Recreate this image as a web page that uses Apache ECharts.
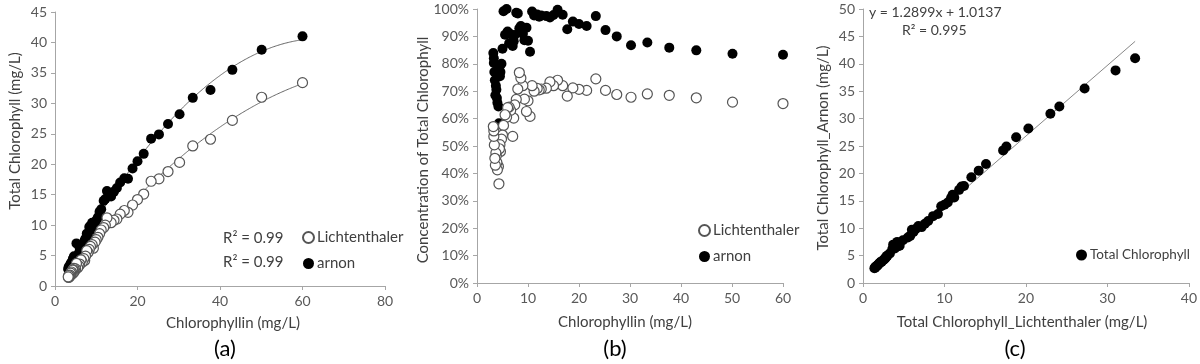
<!DOCTYPE html>
<html><head><meta charset="utf-8">
<script src="https://cdn.jsdelivr.net/npm/echarts@6/dist/echarts.min.js"></script>
<style>html,body{margin:0;padding:0;background:#fff}#c{width:1200px;height:364px}</style>
</head><body><div id="c"></div>
<script>
// Chlorophyllin (mg/L) per sample
const chlorophyllin = [60.0,50.1,43.0,37.7,33.4,30.2,27.4,25.2,23.3,21.5,20.0,18.8,17.7,16.8,15.8,15.0,14.3,13.6,12.6,12.2,11.8,11.2,10.8,10.4,10.0,9.7,9.3,9.0,8.6,8.3,8.0,7.7,7.4,7.2,7.0,6.6,6.3,6.0,5.8,5.5,5.2,5.0,4.8,4.6,4.5,4.4,4.3,4.2,4.0,3.9,3.8,3.7,3.6,3.5,3.4,3.3,3.3,3.2];
// Total chlorophyll (mg/L), Lichtenthaler method
const lichtTotal = [33.4,31.0,27.2,24.1,23.0,20.3,18.8,17.6,17.2,15.1,14.2,13.3,12.1,12.4,11.8,11.0,10.8,10.4,11.2,10.0,9.6,9.2,8.6,8.0,7.6,7.2,6.2,6.8,6.5,6.0,5.5,5.8,4.9,4.2,4.5,3.9,4.3,3.6,3.3,3.0,3.7,2.8,2.5,2.9,2.2,2.7,2.6,2.0,2.3,1.9,2.1,1.7,1.8,1.5,1.6,1.4,1.7,1.5];
// Total chlorophyll (mg/L), Arnon method
const arnonTotal = [41.0,38.8,35.5,32.2,30.9,28.2,26.6,24.9,24.2,21.7,20.5,19.3,17.6,17.7,17.0,16.1,15.5,14.7,15.6,14.3,14.0,12.6,12.2,11.3,10.8,10.2,9.3,10.4,9.9,9.7,8.3,8.6,7.8,7.5,6.8,6.3,6.7,6.2,5.4,5.0,7.0,4.6,4.2,4.9,3.9,4.5,4.3,3.6,3.9,3.4,3.7,3.1,3.3,2.9,3.0,2.7,3.1,2.8];
// Concentration of total chlorophyll (%)
const lichtPct = [65.5,66.0,67.6,68.5,69.0,67.8,68.8,70.3,74.5,70.3,70.7,71.2,68.2,72.0,74.0,72.0,73.4,71.1,70.8,70.5,71.0,70.0,72.0,60.8,66.5,62.6,67.1,72.0,74.8,76.8,70.8,67.0,65.0,60.2,53.5,63.0,64.2,64.0,60.5,61.4,57.5,54.0,52.5,48.0,50.5,49.0,36.2,42.5,41.3,44.0,46.5,47.5,43.0,45.5,50.4,53.5,55.5,57.1];
const arnonPct = [83.3,83.7,84.9,85.9,87.8,86.8,90.0,92.3,97.4,93.8,94.5,95.4,92.6,97.9,99.7,97.8,96.9,97.4,97.6,97.2,98.0,97.6,99.1,84.4,88.4,93.2,88.6,91.0,93.8,93.0,98.4,98.6,90.5,88.2,86.5,90.8,87.5,91.8,100.0,90.6,99.2,85.5,80.0,77.0,75.5,79.0,58.3,64.4,65.8,67.5,70.5,72.0,68.5,74.0,77.0,80.3,82.0,83.9];
// Linear fit shown in panel (c)
const fitSlope = 1.2899, fitIntercept = 1.0137;
const axisXa = [0,80,20], axisYa = [0,45,5];
const axisXb = [0,60,10], axisYb = [0,100,10];
const axisXc = [0,40,10], axisYc = [0,50,5];

function quadFit(xs, ys){
  let n=xs.length,S=[0,0,0,0,0],T=[0,0,0];
  for(let i=0;i<n;i++){let x=xs[i],y=ys[i];for(let k=0;k<5;k++)S[k]+=Math.pow(x,k);for(let k=0;k<3;k++)T[k]+=y*Math.pow(x,k);}
  const A=[[S[0],S[1],S[2],T[0]],[S[1],S[2],S[3],T[1]],[S[2],S[3],S[4],T[2]]];
  for(let i=0;i<3;i++){for(let j=i+1;j<3;j++){const f=A[j][i]/A[i][i];for(let k=i;k<4;k++)A[j][k]-=f*A[i][k];}}
  const c=[0,0,0];for(let i=2;i>=0;i--){let s=A[i][3];for(let k=i+1;k<3;k++)s-=A[i][k]*c[k];c[i]=s/A[i][i];}
  return c;
}
function curve(c, x0, x1){const out=[];for(let i=0;i<=60;i++){const x=x0+(x1-x0)*i/60;out.push([x,c[0]+c[1]*x+c[2]*x*x]);}return out;}
const xmin=Math.min(...chlorophyllin), xmax=Math.max(...chlorophyllin);
const cL=quadFit(chlorophyllin,lichtTotal), cA=quadFit(chlorophyllin,arnonTotal);
const lmin=Math.min(...lichtTotal), lmax=Math.max(...lichtTotal);

const FONT='Lato';
const axC='#a6a6a6', lab='#595959';
function ax(idx,r,fmt){return {type:'value',gridIndex:idx,min:r[0],max:r[1],interval:r[2],
  axisLine:{show:true,lineStyle:{color:axC}},axisTick:{show:true,length:4,lineStyle:{color:axC}},
  splitLine:{show:false},axisLabel:{color:lab,fontFamily:FONT,fontSize:14,margin:8,formatter:fmt||'{value}'}};}

const openStyle={color:'#fff',borderColor:'#555',borderWidth:1.2,opacity:1};
const fillStyle={color:'#000',opacity:1};
const pair=(a,b)=>a.map((v,i)=>[v,b[i]]);

const txt=(x,y,s,o)=>({type:'text',x:x,y:y,style:Object.assign({text:s,fill:'#404040',font:'15px Lato',textAlign:'center',textVerticalAlign:'middle'},o||{})});
const rot=(x,y,s)=>({type:'text',x:x,y:y,rotation:Math.PI/2,style:{text:s,fill:'#404040',font:'15px Lato',textAlign:'center',textVerticalAlign:'middle'}});
const legText={fontFamily:FONT,fontSize:15,color:'#404040',padding:[0,0,0,-2]};
const legTextC={fontFamily:FONT,fontSize:13.5,color:'#404040',padding:[0,0,0,-2]};

const chart=echarts.init(document.getElementById('c'),null,{renderer:'canvas'});
chart.setOption({
  animation:false,
  backgroundColor:'#fff',
  grid:[
    {left:55,top:12,width:330,height:274},
    {left:477,top:9,width:306,height:274},
    {left:863,top:9,width:326,height:274}
  ],
  xAxis:[ax(0,axisXa),ax(1,axisXb),ax(2,axisXc)],
  yAxis:[ax(0,axisYa),ax(1,axisYb,'{value}%'),ax(2,axisYc)],
  legend:[
    {left:297,top:225,orient:'vertical',itemGap:11,itemWidth:11,itemHeight:11,data:['Lichtenthaler','arnon'],textStyle:legText},
    {left:693,top:218,orient:'vertical',itemGap:11,itemWidth:11,itemHeight:11,data:['Lichtenthaler','arnon'],textStyle:legText},
    {left:1071,top:243,orient:'vertical',itemWidth:11,itemHeight:11,data:['Total Chlorophyll'],textStyle:legTextC}
  ],
  series:[
    {type:'line',name:'fitL',xAxisIndex:0,yAxisIndex:0,data:curve(cL,xmin,xmax),showSymbol:false,smooth:true,lineStyle:{color:'#666',width:1},silent:true,z:1},
    {type:'line',name:'fitA',xAxisIndex:0,yAxisIndex:0,data:curve(cA,xmin,xmax),showSymbol:false,smooth:true,lineStyle:{color:'#666',width:1},silent:true,z:1},
    {type:'scatter',name:'Lichtenthaler',xAxisIndex:0,yAxisIndex:0,data:pair(chlorophyllin,lichtTotal),symbol:'circle',symbolSize:10,itemStyle:openStyle,z:3},
    {type:'scatter',name:'arnon',xAxisIndex:0,yAxisIndex:0,data:pair(chlorophyllin,arnonTotal),symbol:'circle',symbolSize:10,itemStyle:fillStyle,z:2},
    {type:'scatter',name:'Lichtenthaler',xAxisIndex:1,yAxisIndex:1,data:pair(chlorophyllin,lichtPct),symbol:'circle',symbolSize:10,itemStyle:openStyle,z:3},
    {type:'scatter',name:'arnon',xAxisIndex:1,yAxisIndex:1,data:pair(chlorophyllin,arnonPct),symbol:'circle',symbolSize:10,itemStyle:fillStyle,z:2},
    {type:'line',name:'fitC',xAxisIndex:2,yAxisIndex:2,data:[[lmin,fitSlope*lmin+fitIntercept],[lmax,fitSlope*lmax+fitIntercept]],showSymbol:false,lineStyle:{color:'#888',width:1},silent:true,z:1},
    {type:'scatter',name:'Total Chlorophyll',xAxisIndex:2,yAxisIndex:2,data:pair(lichtTotal,arnonTotal),symbol:'circle',symbolSize:10,itemStyle:fillStyle,z:2}
  ],
  graphic:[
    rot(15,131,'Total Chlorophyll (mg/L)'),
    txt(233,323,'Chlorophyllin (mg/L)'),
    txt(225,349,'(a)',{font:'22px Lato',fill:'#000'}),
    txt(223,238,'R² = 0.99',{textAlign:'left'}),
    txt(223,262,'R² = 0.99',{textAlign:'left'}),
    rot(423,150,'Concentration of Total Chlorophyll'),
    txt(625,322,'Chlorophyllin (mg/L)'),
    txt(615,349,'(b)',{font:'22px Lato',fill:'#000'}),
    rot(823,148,'Total Chlorophyll_Arnon (mg/L)'),
    txt(1022,322,'Total Chlorophyll_Lichtenthaler (mg/L)'),
    txt(1015,349,'(c)',{font:'22px Lato',fill:'#000'}),
    txt(869,12,'y = 1.2899x + 1.0137',{textAlign:'left',font:'14px Lato'}),
    txt(902,30,'R² = 0.995',{textAlign:'left',font:'14px Lato'})
  ]
});
</script></body></html>
